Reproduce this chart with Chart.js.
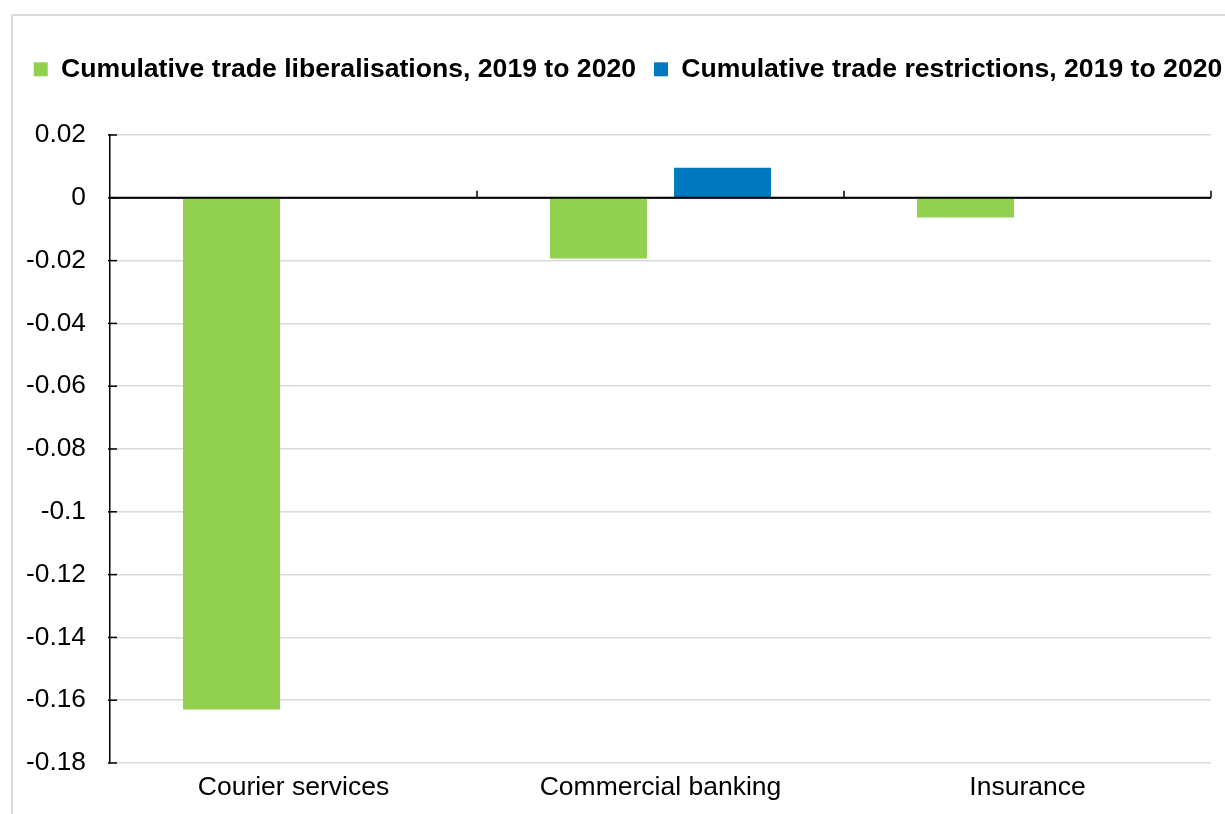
<!DOCTYPE html>
<html>
<head>
<meta charset="utf-8">
<script src="https://cdn.jsdelivr.net/npm/chart.js@4/dist/chart.umd.min.js"></script>
<style>
  html, body { margin: 0; padding: 0; background: #fff; overflow: hidden; width: 1225px; height: 814px; }
  #frame { position: absolute; left: 11px; top: 14px; border: 2px solid #d9d9d9; width: 1230px; height: 820px; }
  canvas { display: block; }
</style>
</head>
<body>
<div id="frame"><canvas id="c" width="1230" height="798"></canvas></div>
<script>
const categories = ["Courier services", "Commercial banking", "Insurance"];
const liberalisations = [-0.163, -0.0193, -0.0063];
const restrictions = [0, 0.0096, 0];
const seriesLabels = ["Cumulative trade liberalisations, 2019 to 2020", "Cumulative trade restrictions, 2019 to 2020"];
const yMin = -0.18, yMax = 0.02, yStep = 0.02;

const FONT = "'Liberation Sans', Arial, sans-serif";

const axisMarks = {
  id: 'axisMarks',
  afterDatasetsDraw(chart) {
    const { ctx, chartArea, scales } = chart;
    const x = scales.x, y = scales.y;
    const y0 = y.getPixelForValue(0);
    ctx.save();
    ctx.strokeStyle = '#000';
    ctx.lineWidth = 2;
    ctx.beginPath();
    ctx.moveTo(chartArea.left, y0);
    ctx.lineTo(chartArea.right, y0);
    ctx.stroke();
    ctx.lineWidth = 1.5;
    for (let i = 1; i <= categories.length; i++) {
      const px = Math.round(x.getPixelForValue(i - 0.5));
      ctx.beginPath();
      ctx.moveTo(px, y0);
      ctx.lineTo(px, y0 - 7);
      ctx.stroke();
    }
    y.ticks.forEach(t => {
      const py = y.getPixelForValue(t.value);
      ctx.beginPath();
      ctx.moveTo(chartArea.left - 2, py);
      ctx.lineTo(chartArea.left + 7, py);
      ctx.stroke();
    });
    ctx.restore();
  }
};

const legendSize = {
  id: 'legendSize',
  beforeInit(chart) {
    const lg = chart.legend;
    const upd = lg.update;
    lg.update = function (maxWidth, maxHeight, margins) {
      upd.call(this, 3000, maxHeight, margins);
    };
    const fit = lg.fit;
    lg.fit = function () {
      fit.call(this);
      this.height = 97;
    };
  }
};

new Chart(document.getElementById('c'), {
  type: 'bar',
  data: {
    labels: categories,
    datasets: [
      { label: seriesLabels[0], data: liberalisations, backgroundColor: '#92D050', categoryPercentage: 0.676, barPercentage: 0.782 },
      { label: seriesLabels[1], data: restrictions, backgroundColor: '#0179C0', categoryPercentage: 0.676, barPercentage: 0.782 }
    ]
  },
  options: {
    responsive: false,
    animation: false,
    devicePixelRatio: 1,
    layout: { padding: { top: 22, right: 0, left: 0, bottom: 0 } },
    plugins: {
      legend: {
        display: true,
        position: 'top',
        labels: {
          boxWidth: 14, boxHeight: 14, padding: 18, color: '#000',
          font: { family: FONT, size: 26.6, weight: 'bold' }
        }
      },
      tooltip: { enabled: false }
    },
    scales: {
      x: {
        grid: { display: false, drawTicks: false },
        border: { display: false },
        ticks: { color: '#000', padding: 9, font: { family: FONT, size: 26.5 } },
        afterFit(s) { s.height = 798 - 747; }
      },
      y: {
        min: yMin, max: yMax,
        grid: {
          drawTicks: false,
          color: c => (c.tick && Math.abs(c.tick.value) < 1e-9) ? '#000' : '#d9d9d9',
          lineWidth: 1.5
        },
        border: { display: true, color: '#000', width: 1.5 },
        ticks: {
          stepSize: yStep, color: '#000', padding: 24,
          font: { family: FONT, size: 26.3 },
          callback: v => String(Number(Number(v).toFixed(2)))
        },
        afterFit(s) { s.width = 97; }
      },
      spacer: {
        type: 'linear',
        position: 'right',
        display: true,
        grid: { display: false, drawTicks: false },
        border: { display: false },
        ticks: { display: false },
        afterFit(s) { s.width = 32; }
      }
    }
  },
  plugins: [axisMarks, legendSize]
});
</script>
</body>
</html>
